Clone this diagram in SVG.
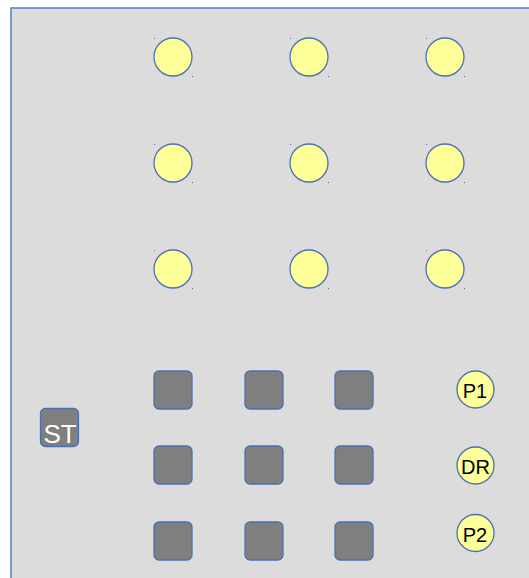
<svg xmlns="http://www.w3.org/2000/svg" width="529" height="578" viewBox="0 0 529 578">
<style>
.frame{fill:#dcdcdc;stroke:#4f7ec7;stroke-width:1.5}
.c{fill:#ffff99;stroke:#4a72b0;stroke-width:1.3}
.s{fill:#7f7f7f;stroke:#4a72b0;stroke-width:1.3}
.dot{fill:#4a72b0}
.lbl{font-family:"Liberation Sans",Arial,sans-serif;font-size:20px;fill:#000;text-anchor:middle}
.st{font-family:"Liberation Sans",Arial,sans-serif;font-size:26px;fill:#fff;text-anchor:middle}
</style>
<rect class="frame" x="11" y="8" width="530" height="580"/>
<g id="circles">
<g id="c11"><circle class="c" cx="173" cy="57" r="19"/><rect class="dot" x="154" y="38" width="1" height="1"/><rect class="dot" x="192" y="76" width="1" height="1"/></g>
<g id="c12"><circle class="c" cx="309" cy="57" r="19"/><rect class="dot" x="290" y="38" width="1" height="1"/><rect class="dot" x="328" y="76" width="1" height="1"/></g>
<g id="c13"><circle class="c" cx="445" cy="57" r="19"/><rect class="dot" x="426" y="38" width="1" height="1"/><rect class="dot" x="464" y="76" width="1" height="1"/></g>
<g id="c21"><circle class="c" cx="173" cy="163" r="19"/><rect class="dot" x="154" y="144" width="1" height="1"/><rect class="dot" x="192" y="182" width="1" height="1"/></g>
<g id="c22"><circle class="c" cx="309" cy="163" r="19"/><rect class="dot" x="290" y="144" width="1" height="1"/><rect class="dot" x="328" y="182" width="1" height="1"/></g>
<g id="c23"><circle class="c" cx="445" cy="163" r="19"/><rect class="dot" x="426" y="144" width="1" height="1"/><rect class="dot" x="464" y="182" width="1" height="1"/></g>
<g id="c31"><circle class="c" cx="173" cy="269" r="19"/><rect class="dot" x="154" y="250" width="1" height="1"/><rect class="dot" x="192" y="288" width="1" height="1"/></g>
<g id="c32"><circle class="c" cx="309" cy="269" r="19"/><rect class="dot" x="290" y="250" width="1" height="1"/><rect class="dot" x="328" y="288" width="1" height="1"/></g>
<g id="c33"><circle class="c" cx="445" cy="269" r="19"/><rect class="dot" x="426" y="250" width="1" height="1"/><rect class="dot" x="464" y="288" width="1" height="1"/></g>
</g>
<g id="squares">
<g id="s11"><rect class="s" x="154" y="371" width="38" height="38" rx="5"/></g>
<g id="s12"><rect class="s" x="245" y="371" width="38" height="38" rx="5"/></g>
<g id="s13"><rect class="s" x="335" y="371" width="38" height="38" rx="5"/></g>
<g id="s21"><rect class="s" x="154" y="446" width="38" height="38" rx="5"/></g>
<g id="s22"><rect class="s" x="245" y="446" width="38" height="38" rx="5"/></g>
<g id="s23"><rect class="s" x="335" y="446" width="38" height="38" rx="5"/></g>
<g id="s31"><rect class="s" x="154" y="522" width="38" height="38" rx="5"/></g>
<g id="s32"><rect class="s" x="245" y="522" width="38" height="38" rx="5"/></g>
<g id="s33"><rect class="s" x="335" y="522" width="38" height="38" rx="5"/></g>
</g>
<g id="ST"><rect class="s" x="40.5" y="408.5" width="38" height="38" rx="5"/><text class="st" x="60" y="443">ST</text></g>
<g id="P1"><circle class="c" cx="475.5" cy="389.5" r="18.5"/><text class="lbl" x="475" y="398">P1</text></g>
<g id="DR"><circle class="c" cx="475.5" cy="465.5" r="18.5"/><text class="lbl" x="475.5" y="474">DR</text></g>
<g id="P2"><circle class="c" cx="475.5" cy="533" r="18.5"/><text class="lbl" x="475" y="541.5">P2</text></g>
<g id="connectors"></g>
</svg>
